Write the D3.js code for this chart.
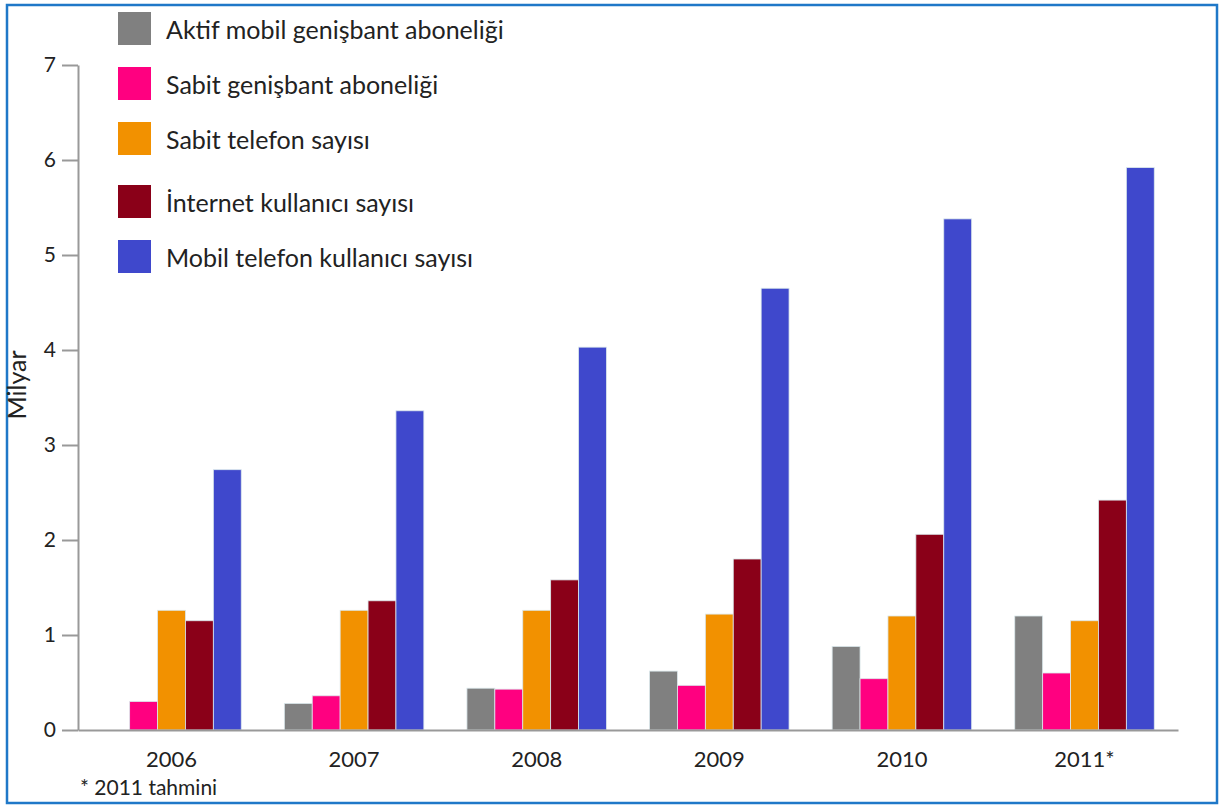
<!DOCTYPE html>
<html lang="tr">
<head>
<meta charset="utf-8">
<title>Milyar</title>
<script src="https://cdn.jsdelivr.net/npm/d3@7"></script>
<style>
  body { margin: 0; background: #fff; }
  text { font-family: Lato, "Open Sans", sans-serif; fill: #222; }
</style>
</head>
<body>
<script>
/* data, in milyar */
var years = ["2006", "2007", "2008", "2009", "2010", "2011*"];
var seriesNames = ["Aktif mobil genişbant aboneliği", "Sabit genişbant aboneliği",
  "Sabit telefon sayısı", "İnternet kullanıcı sayısı", "Mobil telefon kullanıcı sayısı"];
var colors = ["#808080", "#ff0080", "#f29100", "#8a0018", "#3f48cc"];
var mobilGenisbant = [0, 0.28, 0.44, 0.62, 0.88, 1.20];
var sabitGenisbant = [0.30, 0.36, 0.43, 0.47, 0.54, 0.60];
var sabitTelefon = [1.26, 1.26, 1.26, 1.22, 1.20, 1.15];
var internet = [1.15, 1.36, 1.58, 1.80, 2.06, 2.42];
var mobilTelefon = [2.74, 3.36, 4.03, 4.65, 5.38, 5.92];
var yTicks = [0, 1, 2, 3, 4, 5, 6, 7];

var series = [mobilGenisbant, sabitGenisbant, sabitTelefon, internet, mobilTelefon];

var W = 1225, H = 805;
var svg = d3.select("body").append("svg").attr("width", W).attr("height", H);

/* frame */
svg.append("rect").attr("x", 7).attr("y", 5).attr("width", 1210).attr("height", 798)
  .attr("fill", "none").attr("stroke", "#1f78c8").attr("stroke-width", 2.5);

var x0 = d3.scaleBand().domain(years).range([78, 1178]).paddingInner(0.236).paddingOuter(0.13);
var x1 = d3.scaleBand().domain(d3.range(series.length)).range([0, x0.bandwidth()]);
var y = d3.scaleLinear().domain([0, 7]).range([730, 65]);

/* bars */
var groups = svg.append("g").selectAll("g").data(years).enter().append("g")
  .attr("transform", function(d) { return "translate(" + x0(d) + ",0)"; });

groups.selectAll("rect")
  .data(function(d, i) { return series.map(function(s, k) { return {k: k, v: s[i]}; }); })
  .enter().append("rect")
  .filter(function(d) { return d.v > 0; })
  .attr("x", function(d) { return x1(d.k); })
  .attr("width", x1.bandwidth())
  .attr("y", function(d) { return y(d.v); })
  .attr("height", function(d) { return y(0) - y(d.v); })
  .attr("fill", function(d) { return colors[d.k]; })
  .attr("stroke", "#dbe8ec").attr("stroke-width", 0.8);

/* y axis */
var yAxis = svg.append("g").attr("transform", "translate(78,0)")
  .call(d3.axisLeft(y).tickValues(yTicks).tickFormat(d3.format("d"))
    .tickSize(16).tickPadding(6).tickSizeOuter(0));
yAxis.select(".domain").attr("stroke", "#999").attr("stroke-width", 2);
yAxis.selectAll(".tick line").attr("stroke", "#999").attr("stroke-width", 2);
yAxis.selectAll(".tick text").style("font-size", "21px").style("font-family", "Lato, sans-serif").attr("fill", "#222");

/* x axis line */
var xAxis = svg.append("g").attr("transform", "translate(0,730)")
  .call(d3.axisBottom(x0).tickSize(0).tickPadding(20));
xAxis.select(".domain").attr("stroke", "#999").attr("stroke-width", 2);
xAxis.selectAll(".tick text").attr("dy", null).attr("y", 37)
  .style("font-size", "22px").style("font-family", "Lato, sans-serif").attr("fill", "#222");

/* y title */
svg.append("text").attr("transform", "translate(26,385) rotate(-90)")
  .attr("text-anchor", "middle").style("font-size", "25px").text("Milyar");

/* legend */
var legY = [12, 67, 122, 185, 240];
var legend = svg.append("g").selectAll("g").data(seriesNames).enter().append("g")
  .attr("transform", function(d, i) { return "translate(118," + legY[i] + ")"; });
legend.append("rect").attr("width", 33).attr("height", 33)
  .attr("fill", function(d, i) { return colors[i]; });
legend.append("text").attr("x", 48).attr("y", 27)
  .style("font-size", "25px").text(function(d) { return d; });

/* footnote */
svg.append("text").attr("x", 80).attr("y", 795).style("font-size", "21px").text("* 2011 tahmini");
</script>
</body>
</html>
